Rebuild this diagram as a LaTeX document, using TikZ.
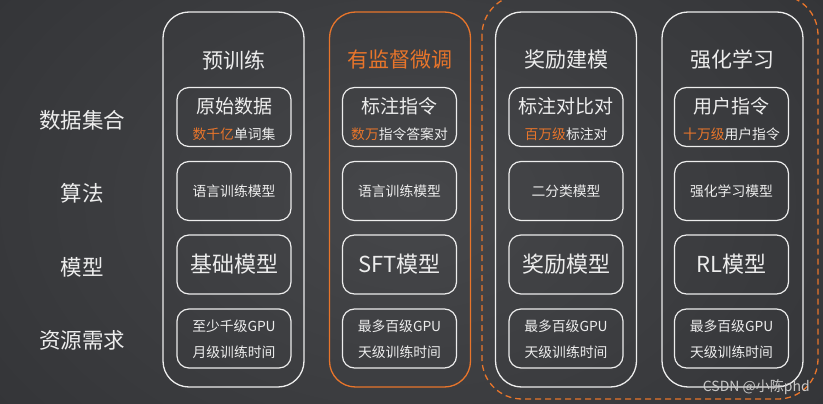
\documentclass[tikz,border=0pt]{standalone}
\usepackage{fontspec}
\setmainfont{Noto Sans CJK SC}
\definecolor{bgc}{HTML}{3C3D40}
\definecolor{bgin}{HTML}{46474A}
\definecolor{bgout}{HTML}{343538}
\definecolor{org}{HTML}{E8752B}
\definecolor{wl}{HTML}{EDEDED}
\definecolor{wm}{HTML}{C8C8C8}
\tikzset{
  colbox/.style={draw=wl, line width=1.3pt, rounded corners=26pt, minimum width=141pt, minimum height=375pt, inner sep=0pt},
  colboxo/.style={colbox, draw=org},
  cellbox/.style={draw=wl, line width=1.2pt, rounded corners=12pt, minimum width=114pt, minimum height=59pt, inner sep=0pt, text=wl, align=center},
  ttl/.style={text=wl, font=\fontsize{21}{25}\selectfont, inner sep=0pt},
  rowlab/.style={text=wl, font=\fontsize{21.5}{25}\selectfont, inner sep=0pt},
  bigt/.style={font=\fontsize{19}{23}\selectfont},
  subt/.style={font=\fontsize{13.8}{16}\selectfont},
  modt/.style={font=\fontsize{22}{26}\selectfont},
}
\begin{document}
\begin{tikzpicture}[x=1pt,y=-1pt]
\useasboundingbox (0,0) rectangle (823,404);
\fill[bgc] (0,0) rectangle (823,404);
\shade[inner color=bgin, outer color=bgout] (-100,-150) rectangle (923,554);
% dashed group
\draw[org, line width=1.3pt, dash pattern=on 6pt off 4pt, rounded corners=40pt] (482,-5) rectangle (818,399);
% columns
\node[colbox]  (c1) at (233.5,199.5) {};
\node[colboxo] (c2) at (400,199.5) {};
\node[colbox]  (c3) at (566,199.5) {};
\node[colbox]  (c4) at (732.5,199.5) {};
% titles
\node[ttl] (t1) at (233.5,60) {预训练};
\node[ttl, text=org] (t2) at (400,60) {有监督微调};
\node[ttl] (t3) at (566,60) {奖励建模};
\node[ttl] (t4) at (732.5,60) {强化学习};
% row labels
\node[rowlab] (r1) at (82,120) {数据集合};
\node[rowlab] (r2) at (82,193) {算法};
\node[rowlab] (r3) at (82,267) {模型};
\node[rowlab] (r4) at (82,340) {资源需求};
% row 1
\node[cellbox] (a1) at (234,117) {};
\node[cellbox] (a2) at (399.5,117) {};
\node[cellbox] (a3) at (566,117) {};
\node[cellbox] (a4) at (731.5,117) {};
\node[text=wl, bigt, inner sep=0pt] at (234,106) {原始数据};
\node[text=wl, bigt, inner sep=0pt] at (399.5,106) {标注指令};
\node[text=wl, bigt, inner sep=0pt] at (566,106) {标注对比对};
\node[text=wl, bigt, inner sep=0pt] at (731.5,106) {用户指令};
\node[text=wl, subt, inner sep=0pt] at (234,134.5) {\textcolor{org}{数千亿}单词集};
\node[text=wl, subt, inner sep=0pt] at (399.5,134.5) {\textcolor{org}{数万}指令答案对};
\node[text=wl, subt, inner sep=0pt] at (566,134.5) {\textcolor{org}{百万级}标注对};
\node[text=wl, subt, inner sep=0pt] at (731.5,134.5) {\textcolor{org}{十万级}用户指令};
% row 2
\node[cellbox, subt] (b1) at (234,191) {语言训练模型};
\node[cellbox, subt] (b2) at (399.5,191) {语言训练模型};
\node[cellbox, subt] (b3) at (566,191) {二分类模型};
\node[cellbox, subt] (b4) at (731.5,191) {强化学习模型};
% row 3
\node[cellbox, modt] (m1) at (234,264.5) {基础模型};
\node[cellbox, modt] (m2) at (399.5,264.5) {SFT模型};
\node[cellbox, modt] (m3) at (566,264.5) {奖励模型};
\node[cellbox, modt] (m4) at (731.5,264.5) {RL模型};
% row 4
\node[cellbox, subt] (g1) at (234,338.5) {};
\node[cellbox, subt] (g2) at (399.5,338.5) {};
\node[cellbox, subt] (g3) at (566,338.5) {};
\node[cellbox, subt] (g4) at (731.5,338.5) {};
\foreach \n/\x/\a/\b in {1/234/至少千级GPU/月级训练时间, 2/399.5/最多百级GPU/天级训练时间, 3/566/最多百级GPU/天级训练时间, 4/731.5/最多百级GPU/天级训练时间}{
  \node[text=wl, subt, inner sep=0pt] (gu\n) at (\x,326) {\a};
  \node[text=wl, subt, inner sep=0pt] (gl\n) at (\x,352) {\b};
}
% watermark
\node[text=wm, font=\fontsize{14}{16}\selectfont, inner sep=0pt, anchor=east] (wmk) at (810,387) {CSDN @小陈phd};
\end{tikzpicture}
\end{document}
